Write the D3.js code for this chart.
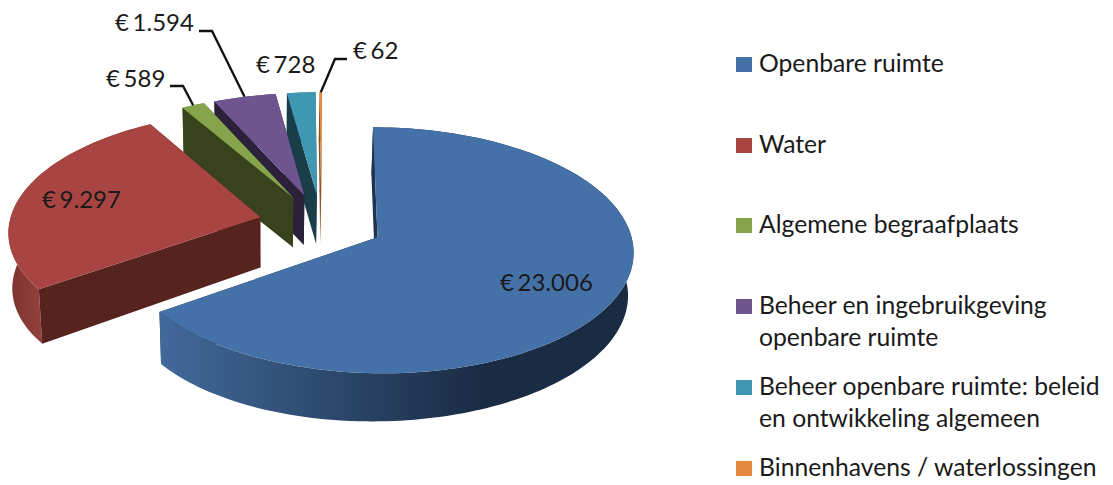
<!DOCTYPE html>
<html><head><meta charset="utf-8">
<script src="https://cdn.jsdelivr.net/npm/d3@7"></script>
<style>html,body{margin:0;padding:0;background:#fff}svg{display:block}text{font-family:Lato,Carlito,sans-serif;fill:#1a1a1a}</style>
</head><body><div id="chart"></div>
<script>
const categories = ["Openbare ruimte","Water","Algemene begraafplaats","Beheer en ingebruikgeving openbare ruimte","Beheer openbare ruimte: beleid en ontwikkeling algemeen","Binnenhavens / waterlossingen"];
const values = [23006,9297,589,1594,728,62];
const legendLines = [["Openbare ruimte"],["Water"],["Algemene begraafplaats"],["Beheer en ingebruikgeving","openbare ruimte"],["Beheer openbare ruimte: beleid","en ontwikkeling algemeen"],["Binnenhavens / waterlossingen"]];
const topColors  = ["#4471a7","#a84542","#86a44b","#6f5590","#3f97b1","#e38a3e"];
const cutColors  = ["#1d3350","#57231f","#38431d","#2c213b","#1a3d4a","#8a5020"];
const wallFrom   = ["#41699a","#93403c","#6a8339","#58447a","#327a8f","#c77a35"];
const wallTo     = ["#1a2c44","#7d332f","#4a5a28","#3a2c50","#235566","#a06020"];

const W=1113,H=485;
const svg=d3.select("#chart").append("svg").attr("width",W).attr("height",H);
const defs=svg.append("defs");

// Perspective view of the tilted pie plane
const view={cx:378,cy:237,rx:254,ry:121.6,kv:0.106,ku:0,shear:5,explode:0.25,depth:48,depthTilt:-5,shrink:0.985,vx:266};
const centre=[-0.224,0.113];
function project(a,b,z){
  const d=1+view.kv*b+view.ku*a;
  let x=view.cx+(view.rx*a-view.shear*b)/d, y=view.cy-view.ry*b/d;
  if(z){x=view.vx+(x-view.vx)*view.shrink; y+=view.depth+view.depthTilt*a;}
  return [x,y];
}
const pie=d3.pie().sort(null).startAngle(0).endAngle(2*Math.PI);
const arcs=pie(values);
const line=d3.line();
const fmt=d3.formatLocale({decimal:",",thousands:".",grouping:[3],currency:["€ ",""]}).format("$,");

function sliceGeom(s){
  const mid=(s.startAngle+s.endAngle)/2;
  const ox=centre[0]+view.explode*Math.sin(mid), oy=centre[1]+view.explode*Math.cos(mid);
  const n=Math.max(2,Math.ceil((s.endAngle-s.startAngle)*40));
  const ang=d3.range(n+1).map(i=>s.startAngle+(s.endAngle-s.startAngle)*i/n);
  const rim=ang.map(t=>[ox+Math.sin(t),oy+Math.cos(t)]);
  return {mid,ox,oy,rim};
}
const geoms=arcs.map(sliceGeom);
const order=[5,4,3,2,1,0];

order.forEach(i=>{
  const g=geoms[i], apex=[g.ox,g.oy], rim=g.rim;
  const top=rim.map(p=>project(p[0],p[1],false));
  const bot=rim.map(p=>project(p[0],p[1],true));
  const at=project(apex[0],apex[1],false), ab=project(apex[0],apex[1],true);
  const gid="wall"+i;
  const gr=defs.append("linearGradient").attr("id",gid).attr("gradientUnits","userSpaceOnUse")
    .attr("x1",i===0?162:40).attr("x2",i===0?480:10).attr("y1",0).attr("y2",0);
  gr.append("stop").attr("offset",0).attr("stop-color",wallFrom[i]);
  gr.append("stop").attr("offset",1).attr("stop-color",wallTo[i]);
  const layer=svg.append("g");
  const last=top.length-1;
  layer.append("path").attr("d",line([at,top[last],bot[last],ab])+"Z").attr("fill",cutColors[i]);
  layer.append("path").attr("d",line(top.concat(bot.slice().reverse()))+"Z").attr("fill",`url(#${gid})`);
  layer.append("path").attr("d",line([at,top[0],bot[0],ab])+"Z").attr("fill",cutColors[i]);
  layer.append("path").attr("d",line([at].concat(top))+"Z").attr("fill",topColors[i]);
});

// Data labels
const labelLayout=[
 {x:500,y:291},{x:42,y:208},
 {x:106,y:87,elbow:[170,183,86]},
 {x:115,y:31,elbow:[199,212,31]},
 {x:256,y:73},
 {x:353,y:59,elbow:[347,335,59]}
];
labelLayout.forEach((l,i)=>{
  svg.append("text").attr("x",l.x).attr("y",l.y).attr("font-size",24).attr("word-spacing","-2.5px").text(fmt(values[i]));
  if(l.elbow){
    const g=geoms[i];
    const t=g.mid, m=project(g.ox+Math.sin(t),g.oy+Math.cos(t),false);
    svg.append("path").attr("fill","none").attr("stroke","#111").attr("stroke-width",2.3)
      .attr("d",line([[l.elbow[0],l.elbow[2]],[l.elbow[1],l.elbow[2]],m]));
  }
});

// Legend
const legend=svg.append("g");
categories.forEach((c,i)=>{
  const base=[72,153,233,314,395,476][i];
  legend.append("rect").attr("x",736).attr("y",base-15).attr("width",16).attr("height",15).attr("fill",topColors[i]);
  legendLines[i].forEach((ln,j)=>{
    legend.append("text").attr("x",759).attr("y",base+j*32).attr("font-size",24.7).text(ln);
  });
});
</script></body></html>
